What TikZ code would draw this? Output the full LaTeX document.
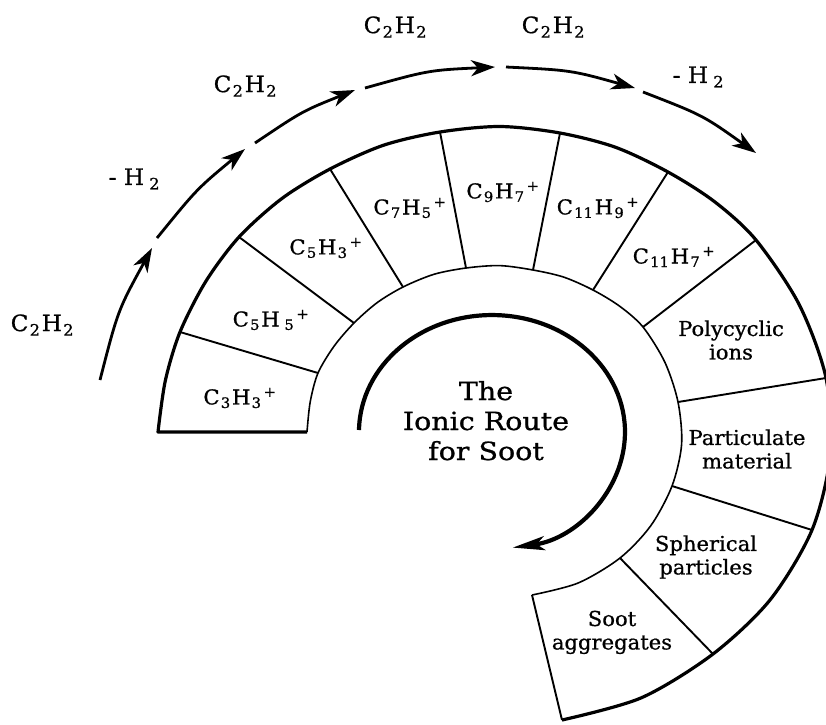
\documentclass[tikz,border=0pt]{standalone}
\usepackage{fontspec}
\setmainfont{DejaVu Serif}[FakeBold=0.8]
\usepackage{graphicx}
\usetikzlibrary{arrows.meta}
\newcommand\wtxt[1]{\scalebox{1.03}[1]{#1}}
\newcommand\ttxt[1]{\scalebox{1.14}[1]{#1}}
\newcommand\chsub[1]{\kern1.2pt\textsubscript{#1}\kern1.2pt}
\newcommand\chsup[1]{\kern0.8pt\textsuperscript{#1}}
\begin{document}
\begin{tikzpicture}[x=1pt,y=-1pt,
  outerline/.style={line width=3.2pt, line join=round},
  innerline/.style={line width=1.6pt},
  divider/.style={line width=1.9pt},
  flow/.style={line width=2.8pt, -{Stealth[length=24pt,width=16pt,inset=7pt]}},
  spiral/.style={line width=4.2pt, -{Stealth[length=32pt,width=14pt,inset=8pt]}},
  lbl/.style={font=\fontsize{20.5}{23.5}\selectfont, inner sep=0pt},
  rxn/.style={font=\fontsize{22.5}{26}\selectfont, inner sep=0pt},
  titletext/.style={font=\fontsize{25}{30}\selectfont, inner sep=0pt}]
\useasboundingbox (0,0) rectangle (826,724);
% outer boundary points
\coordinate (o0) at (158,432);
\coordinate (m01) at (165.3,380.8);
\coordinate (o1) at (180,332);
\coordinate (m12) at (205.8,281.4);
\coordinate (o2) at (239,237);
\coordinate (m23) at (281.9,198.5);
\coordinate (o3) at (330,169);
\coordinate (m34) at (383.6,145.2);
\coordinate (o4) at (440,132);
\coordinate (m45) at (500.1,126.5);
\coordinate (o5) at (560,133);
\coordinate (m56) at (615.6,147.3);
\coordinate (o6) at (668,172);
\coordinate (m67) at (714.7,201.8);
\coordinate (o7) at (756,240);
\coordinate (m78) at (799.1,304.4);
\coordinate (o8) at (826,378);
\coordinate (m89) at (830.2,455.1);
\coordinate (o9) at (812,530);
\coordinate (m910) at (770.3,599.6);
\coordinate (o10) at (713,654);
\coordinate (m1011) at (641.3,697.8);
\coordinate (o11) at (562,720);
% inner boundary points
\coordinate (i0) at (307,432);
\coordinate (n01) at (310.2,401.9);
\coordinate (i1) at (318,373);
\coordinate (n12) at (334.2,346);
\coordinate (i2) at (354,323);
\coordinate (n23) at (377.2,302.6);
\coordinate (i3) at (403,287);
\coordinate (n34) at (433.9,274.3);
\coordinate (i4) at (466,268);
\coordinate (n45) at (499.7,265.6);
\coordinate (i5) at (533,270);
\coordinate (n56) at (563.7,277.1);
\coordinate (i6) at (593,290);
\coordinate (n67) at (619.5,306.1);
\coordinate (i7) at (643,327);
\coordinate (n78) at (664.9,362.3);
\coordinate (i8) at (678,402);
\coordinate (n89) at (681.6,444.4);
\coordinate (i9) at (672,486);
\coordinate (n910) at (650.7,525.8);
\coordinate (i10) at (620,558);
\coordinate (n1011) at (578.1,583);
\coordinate (i11) at (532,595);
% band
\draw[outerline] (i0) -- plot[smooth] coordinates {(o0) (m01) (o1) (m12) (o2) (m23) (o3) (m34) (o4) (m45) (o5) (m56) (o6) (m67) (o7) (m78) (o8) (m89) (o9) (m910) (o10) (m1011) (o11)};
\draw[innerline] plot[smooth] coordinates {(i0) (n01) (i1) (n12) (i2) (n23) (i3) (n34) (i4) (n45) (i5) (n56) (i6) (n67) (i7) (n78) (i8) (n89) (i9) (n910) (i10) (n1011) (i11)};
\foreach \k in {1,...,11} {\draw[divider] (i\k) -- (o\k);}
% outer flow arrows
\coordinate (a1s) at (100,380); \coordinate (a1c) at (118,310); \coordinate (a1e) at (152,248);
\coordinate (a2s) at (157,238); \coordinate (a2c) at (197,188.8); \coordinate (a2e) at (245,149);
\coordinate (a3s) at (255,143); \coordinate (a3c) at (302.3,111.2); \coordinate (a3e) at (355,90);
\coordinate (a4s) at (365,88); \coordinate (a4c) at (428.7,70.2); \coordinate (a4e) at (495,67);
\coordinate (a5s) at (506,67); \coordinate (a5c) at (571.2,70.2); \coordinate (a5e) at (635,88);
\coordinate (a6s) at (643,92); \coordinate (a6c) at (702.8,115.2); \coordinate (a6e) at (756,153);
\foreach \k in {1,...,6} {\draw[flow] (a\k s) .. controls (a\k c) .. (a\k e);}
% inner spiral arrow
\coordinate (sp0) at (359,430);
\draw[spiral] (sp0) arc[start angle=181, end angle=441, x radius=133, y radius=117];
% reaction labels
\node[rxn] (r1) at (43,325) {\wtxt{C\chsub{2}H\chsub{2}}};
\node[rxn] (r2) at (135,179) {\wtxt{- H\,\chsub{2}}};
\node[rxn] (r3) at (246,86) {\wtxt{C\chsub{2}H\chsub{2}}};
\node[rxn] (r4) at (396,27) {\wtxt{C\chsub{2}H\chsub{2}}};
\node[rxn] (r5) at (554,27) {\wtxt{C\chsub{2}H\chsub{2}}};
\node[rxn] (r6) at (699,77) {\wtxt{- H\,\chsub{2}}};
% band labels
\node[lbl] (s1) at (240,398) {\wtxt{C\chsub{3}H\chsub{3}\chsup{+}}};
\node[lbl] (s2) at (271,320) {\wtxt{C\chsub{5}H\,\chsub{5}\chsup{+}}};
\node[lbl] (s3) at (326,248) {\wtxt{C\chsub{5}H\chsub{3}\chsup{+}}};
\node[lbl] (s4) at (410,208) {\wtxt{C\chsub{7}H\chsub{5}\chsup{+}}};
\node[lbl] (s5) at (503,192) {\wtxt{C\chsub{9}H\chsub{7}\chsup{+}}};
\node[lbl] (s6) at (598,208) {\wtxt{C\chsub{11}H\chsub{9}\chsup{+}}};
\node[lbl] (s7) at (674,257) {\wtxt{C\chsub{11}H\chsub{7}\chsup{+}}};
\node[lbl] (s8) at (731,343) {\wtxt{\begin{tabular}{@{}c@{}}Polycyclic\\ions\end{tabular}}};
\node[lbl] (s9) at (747,452) {\wtxt{\begin{tabular}{@{}c@{}}Particulate\\material\end{tabular}}};
\node[lbl] (s10) at (706,558) {\wtxt{\begin{tabular}{@{}c@{}}Spherical\\particles\end{tabular}}};
\node[lbl] (s11) at (612,633) {\wtxt{\begin{tabular}{@{}c@{}}Soot\\aggregates\end{tabular}}};
% title
\node[titletext] (title) at (486,424) {\ttxt{\begin{tabular}{@{}c@{}}The\\Ionic Route\\for Soot\end{tabular}}};
\end{tikzpicture}
\end{document}
